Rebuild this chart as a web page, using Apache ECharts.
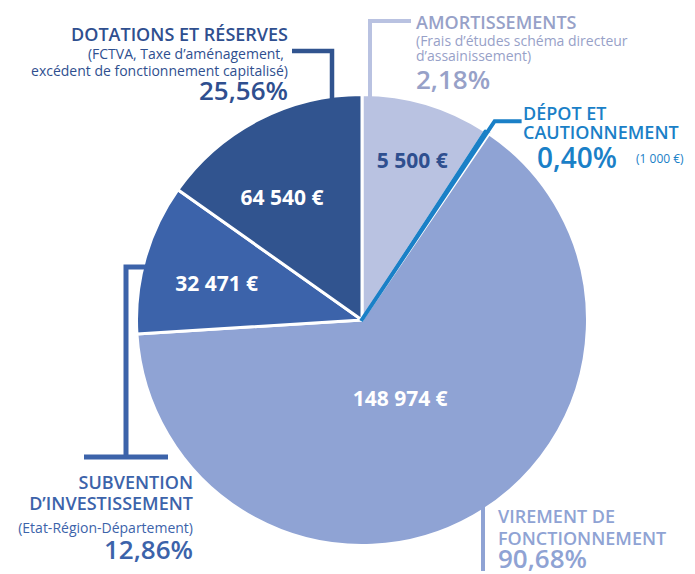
<!DOCTYPE html>
<html>
<head>
<meta charset="utf-8">
<script src="https://cdn.jsdelivr.net/npm/echarts@6/dist/echarts.min.js"></script>
<style>
  html, body { margin: 0; padding: 0; background: #fff; }
  #chart { width: 695px; height: 574px; }
</style>
</head>
<body>
<div id="chart"></div>
<script>
// slices, clockwise from 12 o'clock
const categories = ["Amortissements", "Dépôt et cautionnement", "Virement de fonctionnement", "Subvention d'investissement", "Dotations et réserves"];
const amounts = [5500, 1000, 148974, 32471, 64540];
const percents = ["2,18%", "0,40%", "90,68%", "12,86%", "25,56%"];
// part of the circle each slice takes in the drawing (%)
const sliceShares = [9.2, 0.33, 64.5, 10.8, 15.2];

const colors = ["#b9c2e1", "#1a80c7", "#8fa3d4", "#3c63aa", "#31548f"];
const textColors = ["#97a1c8", "#1a80c7", "#8fa3d4", "#3c63aa", "#2f4f8f"];
const FONT = "'Open Sans', sans-serif";

// pie geometry
const cx = 362, cy = 320, R = 224;
// inner amount label position: [angle from top in degrees, distance from centre]
const amountPos = [[17.4, 168], null, [154, 87], [284.3, 150], [327, 147]];

function polar(deg, r) {
  const a = deg * Math.PI / 180;
  return [cx + r * Math.sin(a), cy - r * Math.cos(a)];
}
function topY(x) { return cy - Math.sqrt(R * R - (x - cx) * (x - cx)); }
function bottomY(x) { return cy + Math.sqrt(R * R - (x - cx) * (x - cx)); }
function leftX(y) { return cx - Math.sqrt(R * R - (y - cy) * (y - cy)); }
function midAngle(i) {
  const total = sliceShares.reduce((s, v) => s + v, 0);
  let before = 0;
  for (let k = 0; k < i; k++) before += sliceShares[k];
  return (before + sliceShares[i] / 2) / total * 360;
}
function euro(v) {
  return String(v).replace(/\B(?=(\d{3})+(?!\d))/g, " ") + " €";
}

function txt(str, x, y, size, color, align, weight) {
  return {
    type: "text", x: x, y: y, z: 100, silent: true,
    style: {
      text: str, fill: color, align: align, verticalAlign: "middle",
      font: (weight || "normal") + " " + size + "px " + FONT
    }
  };
}
function line(points, color, width) {
  return {
    type: "polyline", z: 90, silent: true,
    shape: { points: points },
    style: { stroke: color, lineWidth: width, fill: null, lineJoin: "miter" }
  };
}

let myChart = echarts.init(document.getElementById("chart"), null, { renderer: "svg" });

const depotMid = midAngle(1);
const depotCorner = polar(depotMid, R + 15);

let graphics = [
  // leader lines
  line([[370, topY(370) + 2], [370, 21], [411, 21]], colors[0], 4),
  line([[332, topY(332) + 2], [332, 51], [292, 51]], colors[4], 4.5),
  line([[cx - 1, cy + 1], depotCorner, [depotCorner[0] + 27, depotCorner[1]]], colors[1], 4),
  line([[leftX(267) + 2, 267], [126, 267], [126, 457]], colors[3], 5),
  line([[84, 457], [168, 457]], colors[3], 5),
  line([[483, bottomY(483) - 2], [483, 571]], colors[2], 4),

  // DOTATIONS
  txt("DOTATIONS ET RÉSERVES", 288, 34, 18, textColors[4], "right", 600),
  txt("(FCTVA, Taxe d’aménagement,", 284, 53, 14, textColors[4], "right"),
  txt("excédent de fonctionnement capitalisé)", 288, 70, 14, textColors[4], "right"),
  txt(percents[4], 288, 90, 26, textColors[4], "right", 600),

  // AMORTISSEMENTS
  txt("AMORTISSEMENTS", 416, 22, 18, textColors[0], "left", 600),
  txt("(Frais d’études schéma directeur", 416, 40, 14, textColors[0], "left"),
  txt("d’assainissement)", 416, 55, 14, textColors[0], "left"),
  txt(percents[0], 416, 79, 26, textColors[0], "left", 600),

  // DEPOT
  txt("DÉPOT ET", 523, 113, 18, textColors[1], "left", 600),
  txt("CAUTIONNEMENT", 523, 132, 18, textColors[1], "left", 600),
  txt(percents[1], 537, 157, 28, textColors[1], "left", 600),
  txt("(" + euro(amounts[1]) + ")", 636, 158, 12, textColors[1], "left"),

  // SUBVENTION
  txt("SUBVENTION", 193, 482, 18, textColors[3], "right", 600),
  txt("D’INVESTISSEMENT", 193, 503, 18, textColors[3], "right", 600),
  txt("(Etat-Région-Département)", 193, 527, 14, textColors[3], "right"),
  txt(percents[3], 193, 549, 26, textColors[3], "right", 600),

  // VIREMENT
  txt("VIREMENT DE", 498, 516, 18, textColors[2], "left", 600),
  txt("FONCTIONNEMENT", 498, 538, 18, textColors[2], "left", 600),
  txt(percents[2], 498, 558, 26, textColors[2], "left", 600)
];

let option = {
  animation: false,
  graphic: { elements: graphics },
  series: [
    {
      type: "pie",
      center: [cx, cy],
      radius: [0, R + 1.5],
      startAngle: 90,
      clockwise: true,
      avoidLabelOverlap: false,
      silent: true,
      itemStyle: { borderColor: "#fff", borderWidth: 3 },
      label: {
        show: true,
        position: "inside",
        fontFamily: FONT,
        fontWeight: "bold",
        fontSize: 21,
        color: "#fff",
        formatter: (p) => euro(amounts[p.dataIndex])
      },
      labelLine: { show: false },
      labelLayout: function (params) {
        const pos = amountPos[params.dataIndex];
        if (!pos) return {};
        const pt = polar(pos[0], pos[1]);
        return { x: pt[0], y: pt[1], align: "center", verticalAlign: "middle" };
      },
      data: categories.map((name, i) => ({
        name: name,
        value: sliceShares[i],
        itemStyle: i === 1
          ? { color: colors[i], borderColor: colors[i] }
          : { color: colors[i] },
        label: i === 1 ? { show: false } : (i === 0 ? { color: "#2f4f8f" } : {})
      }))
    }
  ]
};

myChart.setOption(option);
</script>
</body>
</html>
